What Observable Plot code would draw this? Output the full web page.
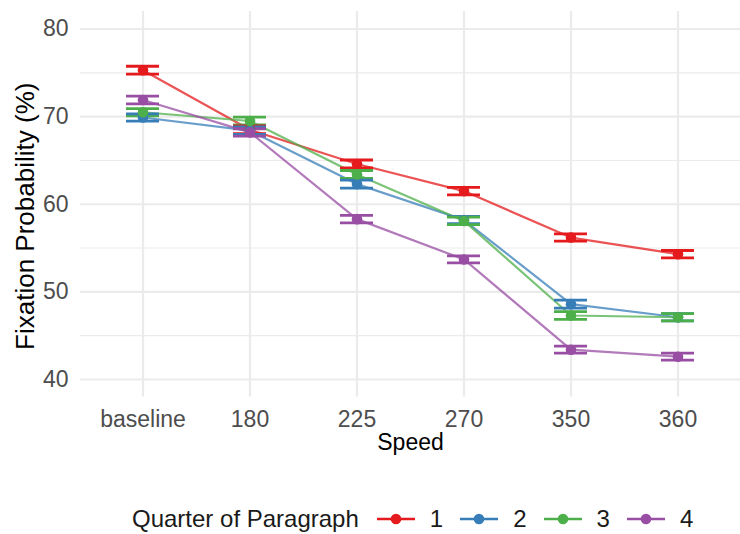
<!DOCTYPE html>
<html>
<head>
<meta charset="utf-8">
<script src="https://cdn.jsdelivr.net/npm/d3@7"></script>
<script src="https://cdn.jsdelivr.net/npm/@observablehq/plot@0.6"></script>
<style>
  html, body { margin: 0; padding: 0; background: #fff; }
  body { width: 740px; height: 534px; overflow: hidden; font-family: "Liberation Sans", Arial, sans-serif; }
  #chart svg { display: block; overflow: visible; }
  #legend { position: relative; height: 64px; }
  #legend .row { position: absolute; left: 132px; top: 37px; height: 24px; display: flex; align-items: center; font-size: 24px; color: #1a1a1a; white-space: nowrap; }
  #legend .title { margin-right: 18px; }
  #legend svg { display: block; }
  #legend .lab { margin-left: 15px; margin-right: 17px; }
</style>
</head>
<body>
<div id="chart"></div>
<div id="legend"><div class="row"></div></div>
<script>
// Speed conditions on the x axis
const speeds = ["baseline", "180", "225", "270", "350", "360"];
// Quarter of paragraph (series)
const quarters = ["1", "2", "3", "4"];
const quarterColors = ["#E41A1C", "#377EB8", "#4DAF4A", "#984EA3"];

// Mean fixation probability (%) per quarter, one value per speed
const q1 = [75.3, 68.5, 64.6, 61.5, 56.2, 54.3];
const q2 = [69.9, 68.4, 62.3, 58.2, 48.6, 47.1];
const q3 = [70.5, 69.5, 63.4, 58.1, 47.3, 47.1];
const q4 = [71.9, 68.2, 58.3, 53.7, 43.4, 42.6];

// Standard errors (%)
const se1 = [0.45, 0.45, 0.45, 0.42, 0.42, 0.42];
const se2 = [0.42, 0.42, 0.45, 0.42, 0.45, 0.42];
const se3 = [0.42, 0.45, 0.45, 0.42, 0.45, 0.42];
const se4 = [0.45, 0.42, 0.42, 0.40, 0.40, 0.40];

// Y axis ticks and gridlines
const yMajor = [40, 50, 60, 70, 80];
const yMinor = [45, 55, 65, 75];

const values = [q1, q2, q3, q4];
const errors = [se1, se2, se3, se4];
const rows = quarters.flatMap((q, i) =>
  speeds.map((s, j) => ({ speed: s, quarter: q, value: values[i][j], se: errors[i][j] }))
);

const font = "'Liberation Sans', Arial, sans-serif";
const gridColor = "#EBEBEB";

const chart = Plot.plot({
  width: 740,
  height: 470,
  marginTop: 11,
  marginBottom: 73.5,
  marginLeft: 80,
  marginRight: 0,
  style: { fontFamily: font, background: "#fff" },
  x: { type: "band", domain: speeds, paddingInner: 0.696, paddingOuter: 0.431, label: null },
  y: { domain: [38, 82], label: null },
  color: { domain: quarters, range: quarterColors },
  marks: [
    Plot.ruleY(yMinor, { stroke: gridColor, strokeWidth: 1.1 }),
    Plot.ruleY(yMajor, { stroke: gridColor, strokeWidth: 2.2 }),
    Plot.ruleX(speeds, { x: (d) => d, stroke: gridColor, strokeWidth: 2.2 }),
    Plot.axisY(yMajor, { tickSize: 0, tickPadding: 12, fontSize: 23, fill: "#4D4D4D", label: null }),
    Plot.axisX({ tickSize: 0, tickPadding: 14, fontSize: 23, fill: "#4D4D4D", label: null }),
    Plot.line(rows, { x: "speed", y: "value", z: "quarter", stroke: "quarter", strokeWidth: 2.2, strokeOpacity: 0.75 }),
    Plot.ruleX(rows, { x: "speed", y1: (d) => d.value - d.se, y2: (d) => d.value + d.se, stroke: "quarter", strokeWidth: 2.8 }),
    Plot.tickY(rows, { x: "speed", y: (d) => d.value - d.se, stroke: "quarter", strokeWidth: 2.8 }),
    Plot.tickY(rows, { x: "speed", y: (d) => d.value + d.se, stroke: "quarter", strokeWidth: 2.8 }),
    Plot.dot(rows, { x: "speed", y: "value", fill: "quarter", r: 5.3 }),
    Plot.text(["Speed"], {
      text: (d) => d, frameAnchor: "bottom", textAnchor: "middle", lineAnchor: "middle",
      dy: 46, fontSize: 23, fill: "#000"
    }),
    Plot.text(["Fixation Probability (%)"], {
      text: (d) => d, frameAnchor: "left", textAnchor: "middle", lineAnchor: "middle",
      rotate: -90, dx: -55, dy: 12, fontSize: 26, fill: "#000"
    })
  ]
});
document.getElementById("chart").append(chart);

// Legend: line-and-point keys for each quarter
const row = document.querySelector("#legend .row");
const title = document.createElement("span");
title.className = "title";
title.textContent = "Quarter of Paragraph";
row.append(title);
quarters.forEach((q, i) => {
  const key = d3.create("svg").attr("width", 38).attr("height", 24);
  key.append("line").attr("x1", 0).attr("x2", 38).attr("y1", 12).attr("y2", 12)
    .attr("stroke", quarterColors[i]).attr("stroke-width", 2.4);
  key.append("circle").attr("cx", 19).attr("cy", 12).attr("r", 5.3).attr("fill", quarterColors[i]);
  row.append(key.node());
  const lab = document.createElement("span");
  lab.className = "lab";
  lab.textContent = q;
  row.append(lab);
});
</script>
</body>
</html>
